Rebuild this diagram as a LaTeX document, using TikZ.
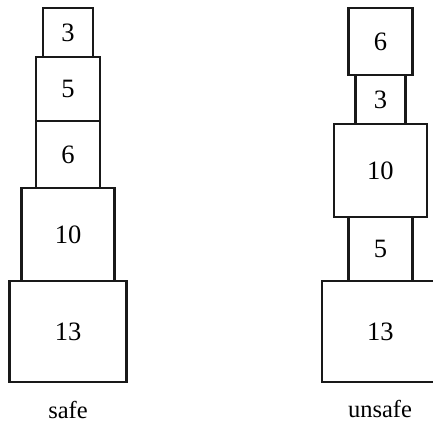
\documentclass[tikz,border=0pt]{standalone}
\usepackage{fontspec}
\setmainfont{Liberation Serif}
\begin{document}
\begin{tikzpicture}[x=1pt,y=-1pt,
  blk/.style={draw=black!90,line width=2.4pt,inner sep=0pt,font=\fontsize{26.5}{30}\selectfont},
  b3/.style={blk,minimum width=50pt,minimum height=49pt},
  b5/.style={blk,minimum width=64pt,minimum height=64pt},
  b6/.style={blk,minimum width=64pt,minimum height=67pt},
  b10/.style={blk,minimum width=93pt,minimum height=93pt},
  b13/.style={blk,minimum width=117pt,minimum height=101pt},
  stacklabel/.style={font=\fontsize{24.5}{28}\selectfont,inner sep=0pt}]
\useasboundingbox (0,0) rectangle (433,426);
\clip (0,0) rectangle (433,426);
% left stack (safe)
\node[b13] (l13) at (68,331.5) {13};
\node[b10] (l10) at (68,234.5) {10};
\node[b6]  (l6)  at (68,154.5) {6};
\node[b5]  (l5)  at (68,89)    {5};
\node[b3]  (l3)  at (68,32.5)  {3};
\node[stacklabel] (safe) at (68,410) {safe};
% right stack (unsafe)
\node[b13] (r13) at (380.4,331.5) {13};
\node[b5]  (r5)  at (380.4,249)   {5};
\node[b10] (r10) at (380.4,170.5) {10};
\node[b3]  (r3)  at (380.4,99.5)  {3};
\node[b6]  (r6)  at (380.4,41.5)  {6};
\node[stacklabel] (unsafe) at (380,409) {unsafe};
\end{tikzpicture}
\end{document}
